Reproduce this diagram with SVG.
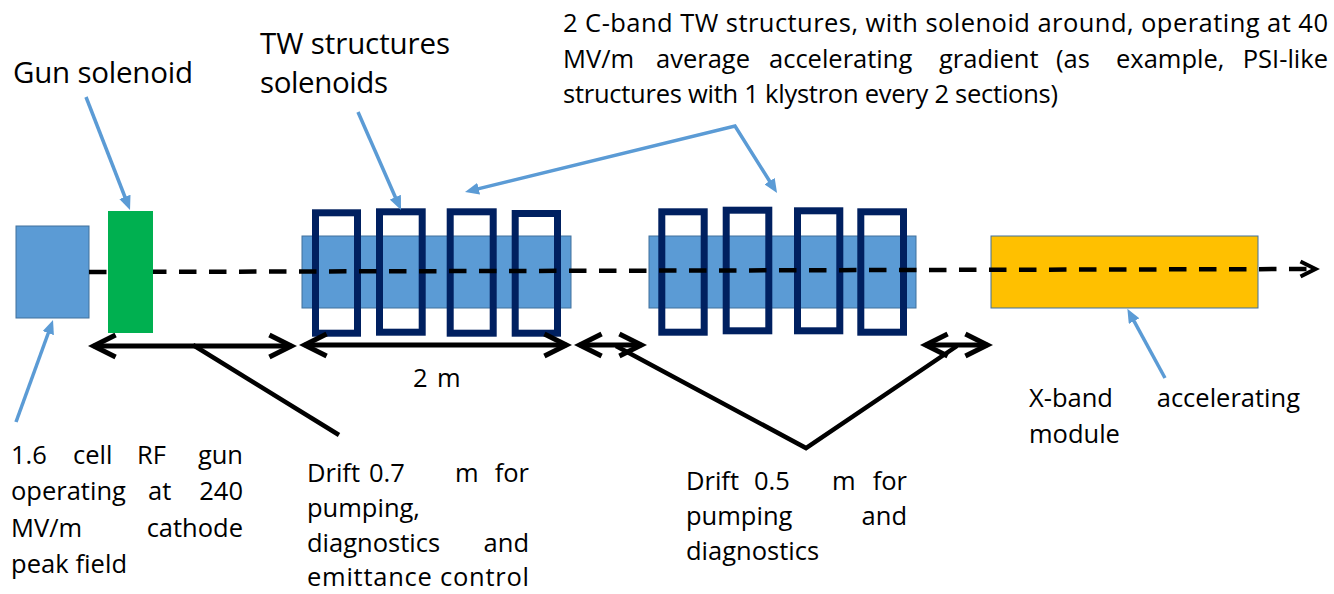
<svg xmlns="http://www.w3.org/2000/svg" width="1334" height="594" viewBox="0 0 1334 594">
<style>
.t{font-family:'Open Sans','Noto Sans','Liberation Sans',sans-serif;font-size:25.5px;fill:#000}
.big{font-size:29.5px}
.acc{fill:#5B9BD5;stroke:#41719C;stroke-width:1}
.sol{fill:none;stroke:#002060;stroke-width:7}
.ptr{fill:none;stroke:#5B9BD5;stroke-width:3.5;stroke-linejoin:miter}
.dim{fill:none;stroke:#000;stroke-width:5;marker-start:url(#chev);marker-end:url(#chev)}
.lead{fill:none;stroke:#000;stroke-width:4.5;stroke-linejoin:miter}
.axis{fill:none;stroke:#000;stroke-width:4.5;stroke-dasharray:17.5 12.5;marker-end:url(#chev-s)}
</style>
<defs>
  <!-- filled head for the blue call-out pointers; tip sits 8px past the path end -->
  <marker id="tri" viewBox="0 0 14 12" refX="6" refY="6" markerWidth="14" markerHeight="12" markerUnits="userSpaceOnUse" orient="auto-start-reverse">
    <path d="M0,0 L14,6 L0,12 z" fill="#5B9BD5"/>
  </marker>
  <!-- open chevron for the length dimensions -->
  <marker id="chev" viewBox="-30 -16 40 32" refX="0" refY="0" markerWidth="40" markerHeight="32" markerUnits="userSpaceOnUse" orient="auto-start-reverse">
    <path d="M-22,-11 L0,0 L-22,11" fill="none" stroke="#000" stroke-width="5" stroke-linejoin="miter"/>
  </marker>
  <!-- smaller chevron at the end of the beam axis -->
  <marker id="chev-s" viewBox="-22 -12 30 24" refX="0" refY="0" markerWidth="30" markerHeight="24" markerUnits="userSpaceOnUse" orient="auto">
    <path d="M-15,-7.5 L0,0 L-15,7.5" fill="none" stroke="#000" stroke-width="4" stroke-linejoin="miter"/>
  </marker>
</defs>

<rect width="1334" height="594" fill="#fff"/>

<!-- RF gun -->
<g id="rf-gun">
  <rect class="acc" x="16" y="226" width="73" height="92"/>
</g>

<!-- first pair of C-band TW structures with their solenoids -->
<g id="tw-section-1">
  <rect class="acc" x="302" y="236" width="269" height="72"/>
  <rect class="sol" x="315.5" y="212.8" width="42" height="120.4"/>
  <rect class="sol" x="379.5" y="211.8" width="42.7" height="120.4"/>
  <rect class="sol" x="450.2" y="211.8" width="43" height="121.4"/>
  <rect class="sol" x="515.2" y="213.5" width="42.3" height="119.7"/>
</g>

<!-- second pair of C-band TW structures with their solenoids -->
<g id="tw-section-2">
  <rect class="acc" x="649" y="236" width="267" height="72"/>
  <rect class="sol" x="661.8" y="211.8" width="42.4" height="120.4"/>
  <rect class="sol" x="726.2" y="210.2" width="42.6" height="120.6"/>
  <rect class="sol" x="797.5" y="210.8" width="42.3" height="120"/>
  <rect class="sol" x="860.8" y="211.8" width="42.7" height="120.4"/>
</g>

<!-- X-band module -->
<g id="x-band-module">
  <rect x="991" y="236" width="267" height="72" fill="#FFC000" stroke="#41719C" stroke-width="1"/>
</g>

<g id="connectors">
  <!-- beam axis -->
  <path class="axis" d="M89,272 L1315.5,269"/>
  <!-- length dimensions -->
  <path class="dim" d="M93.6,346 L291.4,346"/>
  <path class="dim" d="M304.6,345 L566.4,345"/>
  <path class="dim" d="M579.6,345 L641.4,345"/>
  <path class="dim" d="M925.6,345 L987.4,345"/>
  <!-- leaders from the drift labels -->
  <path class="lead" d="M193,345 L339,435"/>
  <path class="lead" d="M616,346 L806,448 L957,346"/>
  <!-- call-out pointers -->
  <path class="ptr" d="M86,97 L127.1,202.5" marker-end="url(#tri)"/>
  <path class="ptr" d="M358,112 L397.8,202.7" marker-end="url(#tri)"/>
  <path class="ptr" d="M472.8,190.1 L735,126 L772.8,186.2" marker-start="url(#tri)" marker-end="url(#tri)"/>
  <path class="ptr" d="M16,422 L50.3,327.5" marker-end="url(#tri)"/>
  <path class="ptr" d="M1165,378 L1131.2,315.8" marker-end="url(#tri)"/>
</g>

<!-- gun solenoid -->
<g id="gun-solenoid">
  <rect x="108" y="211" width="45" height="122" fill="#00B050"/>
</g>

<!-- labels -->
<g id="label-gun-solenoid">
  <text class="t big" x="13" y="83" textLength="180" lengthAdjust="spacing">Gun solenoid</text>
</g>
<g id="label-tw-solenoids">
  <text class="t big" x="260" y="54" textLength="190" lengthAdjust="spacing">TW structures</text>
  <text class="t big" x="260" y="93" textLength="128" lengthAdjust="spacing">solenoids</text>
</g>
<g id="label-c-band">
  <text class="t" x="563" y="32" textLength="765" lengthAdjust="spacing">2 C-band TW structures, with solenoid around, operating at 40</text>
  <text class="t" y="68"><tspan x="563">MV/m</tspan><tspan x="656">average</tspan><tspan x="769">accelerating</tspan><tspan x="939">gradient</tspan><tspan x="1056">(as</tspan><tspan x="1116">example,</tspan><tspan x="1328" text-anchor="end">PSI-like</tspan></text>
  <text class="t" x="563" y="103" textLength="495" lengthAdjust="spacing">structures with 1 klystron every 2 sections)</text>
</g>
<g id="label-length">
  <text class="t" y="387"><tspan x="413">2</tspan><tspan x="437">m</tspan></text>
</g>
<g id="label-rf-gun">
  <text class="t" y="464"><tspan x="11">1.6</tspan><tspan x="73">cell</tspan><tspan x="137">RF</tspan><tspan x="243" text-anchor="end">gun</tspan></text>
  <text class="t" y="500"><tspan x="11">operating</tspan><tspan x="148">at</tspan><tspan x="243" text-anchor="end">240</tspan></text>
  <text class="t" y="537"><tspan x="11">MV/m</tspan><tspan x="243" text-anchor="end">cathode</tspan></text>
  <text class="t" x="11" y="573" textLength="116" lengthAdjust="spacing">peak field</text>
</g>
<g id="label-drift-07">
  <text class="t" y="482"><tspan x="307">Drift</tspan><tspan x="369">0.7</tspan><tspan x="455">m</tspan><tspan x="529" text-anchor="end">for</tspan></text>
  <text class="t" x="307" y="517">pumping,</text>
  <text class="t" y="552"><tspan x="307">diagnostics</tspan><tspan x="529" text-anchor="end">and</tspan></text>
  <text class="t" x="307" y="586" textLength="222" lengthAdjust="spacing">emittance control</text>
</g>
<g id="label-drift-05">
  <text class="t" y="490"><tspan x="686">Drift</tspan><tspan x="754">0.5</tspan><tspan x="832">m</tspan><tspan x="907" text-anchor="end">for</tspan></text>
  <text class="t" y="525"><tspan x="686">pumping</tspan><tspan x="907" text-anchor="end">and</tspan></text>
  <text class="t" x="686" y="560">diagnostics</text>
</g>
<g id="label-x-band">
  <text class="t" y="407"><tspan x="1029">X-band</tspan><tspan x="1300" text-anchor="end">accelerating</tspan></text>
  <text class="t" x="1029" y="443">module</text>
</g>
</svg>
